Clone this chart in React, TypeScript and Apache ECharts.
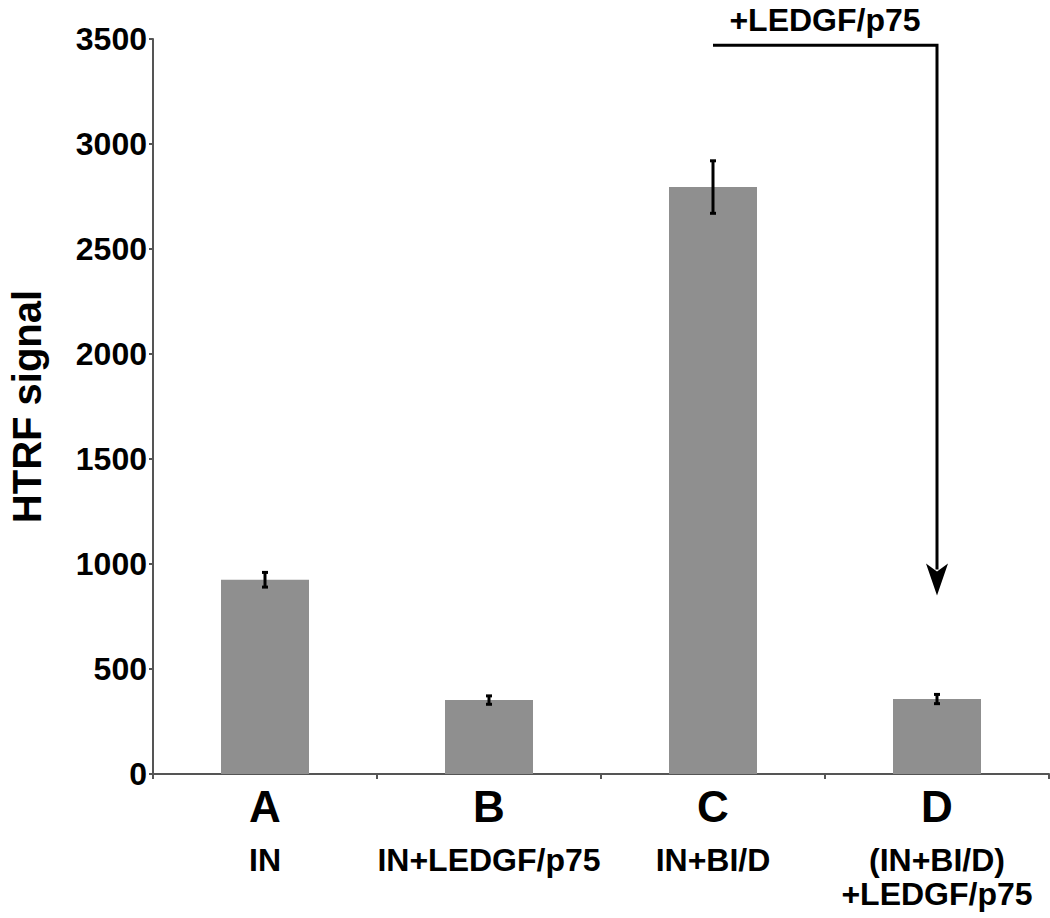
import React, { useEffect, useRef } from "react";
import * as echarts from "echarts";

const categories = ["A", "B", "C", "D"];
const conditionLabels = ["IN", "IN+LEDGF/p75", "IN+BI/D", "(IN+BI/D)\n+LEDGF/p75"];
const signalValues = [925, 352, 2795, 357];
const signalErrors = [35, 20, 125, 22];
const yMin = 0;
const yMax = 3500;
const yInterval = 500;
const yAxisTitle = "HTRF signal";
const arrowLabel = "+LEDGF/p75";
const arrowFromIndex = 2;
const arrowToIndex = 3;
const arrowTopValue = 3470;
const arrowTipValue = 850;

const FONT = "'Liberation Sans', Arial, Helvetica, sans-serif";

export default function App() {
  const ref = useRef<HTMLDivElement>(null);

  useEffect(() => {
    if (!ref.current) return;
    const chart = echarts.init(ref.current, undefined, { renderer: "svg" });

    const errorData = categories.map((_, i) => [
      i,
      signalValues[i] - signalErrors[i],
      signalValues[i] + signalErrors[i],
    ]);

    chart.setOption({
      animation: false,
      backgroundColor: "#ffffff",
      grid: {
        left: 153,
        right: 1,
        top: 39,
        bottom: 144,
        containLabel: false,
        outerBoundsMode: "none",
      },
      xAxis: {
        type: "category",
        data: categories,
        axisLine: { show: true, lineStyle: { color: "#555", width: 2 } },
        axisTick: { show: true, length: 5, lineStyle: { color: "#555", width: 2 } },
        axisLabel: {
          margin: 7,
          interval: 0,
          fontFamily: FONT,
          formatter: (v: string, idx: number) => {
            const lines = conditionLabels[idx].split("\n").map((l) => `{b|${l}}`);
            return [`{a|${v}}`, `{s| }`, ...lines].join("\n");
          },
          rich: {
            a: { fontSize: 44, fontWeight: "bold", lineHeight: 50, color: "#000", fontFamily: FONT },
            s: { fontSize: 8, lineHeight: 12 },
            b: { fontSize: 32, fontWeight: "bold", lineHeight: 34, color: "#000", fontFamily: FONT },
          },
        },
      },
      yAxis: {
        type: "value",
        min: yMin,
        max: yMax,
        interval: yInterval,
        name: yAxisTitle,
        nameLocation: "middle",
        nameGap: 106,
        nameTextStyle: {
          fontSize: 40,
          fontWeight: "bold",
          color: "#000",
          fontFamily: FONT,
        },
        axisLine: { show: true, lineStyle: { color: "#555", width: 2 } },
        axisTick: { show: true, length: 4, lineStyle: { color: "#555", width: 2 } },
        splitLine: { show: false },
        axisLabel: {
          margin: 6,
          fontSize: 32,
          fontWeight: "bold",
          color: "#000",
          fontFamily: FONT,
          formatter: (v: number) => String(v),
        },
      },
      series: [
        {
          type: "bar",
          data: signalValues,
          barWidth: 88,
          itemStyle: { color: "#8f8f8f" },
        },
        {
          type: "custom",
          data: errorData,
          encode: { x: 0, y: [1, 2] },
          z: 10,
          renderItem: (params: any, api: any) => {
            const x = api.value(0);
            const lo = api.coord([x, api.value(1)]);
            const hi = api.coord([x, api.value(2)]);
            const half = 3;
            const st = { stroke: "#000", lineWidth: 3 };
            return {
              type: "group",
              children: [
                { type: "line", shape: { x1: lo[0], y1: lo[1], x2: hi[0], y2: hi[1] }, style: st },
                { type: "line", shape: { x1: hi[0] - half, y1: hi[1], x2: hi[0] + half, y2: hi[1] }, style: st },
                { type: "line", shape: { x1: lo[0] - half, y1: lo[1], x2: lo[0] + half, y2: lo[1] }, style: st },
              ],
            };
          },
        },
      ],
    });

    const pFrom = chart.convertToPixel({ gridIndex: 0 }, [arrowFromIndex, arrowTopValue]) as number[];
    const pTo = chart.convertToPixel({ gridIndex: 0 }, [arrowToIndex, arrowTopValue]) as number[];
    const pTip = chart.convertToPixel({ gridIndex: 0 }, [arrowToIndex, arrowTipValue]) as number[];
    const xT = pTip[0];
    const yT = pTip[1];

    chart.setOption({
      graphic: [
        {
          type: "polyline",
          shape: { points: [[pFrom[0], pFrom[1]], [pTo[0], pTo[1]], [xT, yT - 26]] },
          style: { stroke: "#000", lineWidth: 3, fill: null },
          z: 20,
        },
        {
          type: "polygon",
          shape: { points: [[xT - 11, yT - 32], [xT, yT - 24], [xT + 11, yT - 32], [xT, yT]] },
          style: { fill: "#000" },
          z: 20,
        },
        {
          type: "text",
          x: (pFrom[0] + pTo[0]) / 2,
          y: 20,
          style: {
            text: arrowLabel,
            fontSize: 32,
            fontWeight: "bold",
            fontFamily: FONT,
            fill: "#000",
            textAlign: "center",
            textVerticalAlign: "middle",
          },
          z: 20,
        },
      ],
    });

    return () => chart.dispose();
  }, []);

  return (
    <div
      ref={ref}
      style={{ position: "absolute", left: 0, top: 0, width: 1050, height: 918 }}
    />
  );
}
